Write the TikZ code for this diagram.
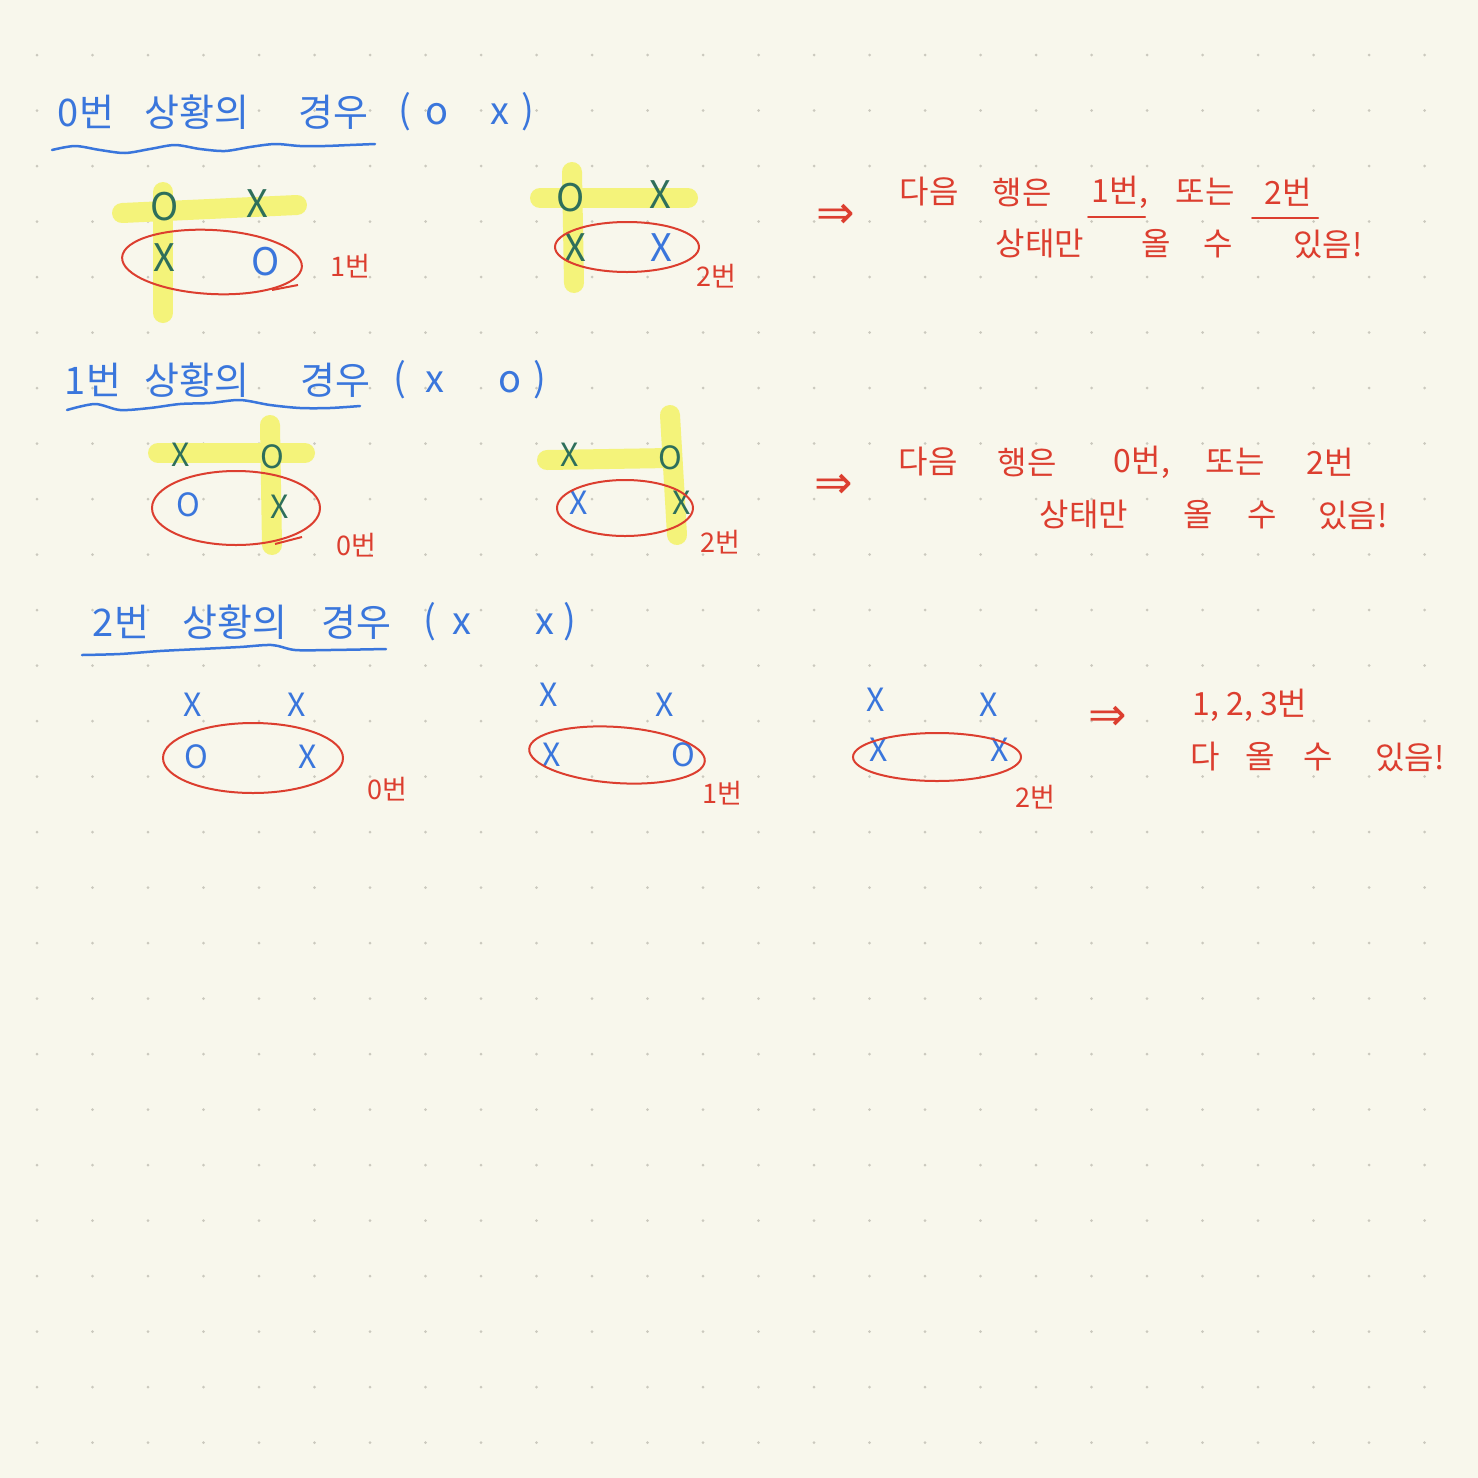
\documentclass[tikz,border=0pt]{standalone}
\usepackage{fontspec}
\setmainfont{Noto Sans CJK KR}
\newfontfamily\symf{DejaVu Sans}
\definecolor{bg}{HTML}{F8F7EC}
\definecolor{pblue}{HTML}{3A76DC}
\definecolor{pred}{HTML}{DC3E2F}
\definecolor{pgreen}{HTML}{2E6F5B}
\definecolor{hyl}{HTML}{F4F37A}
\definecolor{dotc}{HTML}{CBC9BE}
\begin{document}
\begin{tikzpicture}[x=1pt,y=-1pt,
  bt/.style={text=pblue,font=\fontsize{38}{38}\selectfont,inner sep=0pt},
  rt/.style={text=pred,font=\fontsize{32}{32}\selectfont,inner sep=0pt},
  lab/.style={text=pred,font=\fontsize{27}{27}\selectfont,inner sep=0pt},
  arr/.style={text=pred,font=\symf\fontsize{46}{46}\selectfont,inner sep=0pt},
  gmb/.style={text=pblue,font=\fontsize{38}{38}\selectfont,inner sep=0pt},
  gmg/.style={text=pgreen,font=\fontsize{38}{38}\selectfont,inner sep=0pt},
  smb/.style={text=pblue,font=\fontsize{32}{32}\selectfont,inner sep=0pt},
  smg/.style={text=pgreen,font=\fontsize{32}{32}\selectfont,inner sep=0pt},
  hl/.style={draw=hyl,line width=20pt,line cap=round},
  ring/.style={draw=pred,line width=2pt},
  wave/.style={draw=pblue,line width=2.5pt,line cap=round},
  uline/.style={draw=pred,line width=2pt,line cap=round}]
\fill[bg] (0,0) rectangle (1478,1478);
\useasboundingbox (0,0) rectangle (1478,1478);
\foreach \i in {0,...,25}{\foreach \j in {0,...,25}{
  \fill[dotc] ({37+55.5*\i},{55+55.5*\j}) circle (1.5pt);}}

% ---------- Row 1 ----------
\node[bt] (t1a) at (86,112) {0번};
\node[bt] (t1b) at (197,112) {상황의};
\node[bt] (t1c) at (333,112) {경우};
\node[bt] (t1d) at (405,112) {(};
\node[bt] (t1e) at (437,114) {o};
\node[bt] (t1f) at (500,114) {x};
\node[bt] (t1g) at (528,112) {)};
\draw[wave] plot[smooth] coordinates {(52,150)(75,146)(100,150)(125,153)(150,149)(175,145)(200,149)(225,151)(250,147)(275,144)(300,146)(325,146)(350,145)(375,144)};

\draw[hl] (122,213) -- (297,205);
\draw[hl] (163,192) -- (163,313);
\node[gmg] (a1) at (165,207) {O};
\node[gmg] (a2) at (257,204) {X};
\node[gmg] (a3) at (164,258) {X};
\node[gmb] (a4) at (266,262) {O};
\draw[ring,rotate around={-3:(212,262)}] (212,262) ellipse [x radius=90pt,y radius=32pt];
\draw[ring] (272,290) -- (298,285);
\node[lab] (l1) at (350,266) {1번};

\draw[hl] (540,198) -- (688,198);
\draw[hl] (572,172) -- (574,283);
\node[gmg] (b1) at (571,198) {O};
\node[gmg] (b2) at (660,195) {X};
\node[gmg] (b3) at (575,248) {X};
\node[gmb] (b4) at (661,248) {X};
\draw[ring] (627,247) ellipse [x radius=72pt,y radius=25pt];
\node[lab] (l2) at (716,276) {2번};

\node[arr] (r1) at (836,216) {⇒};
\node[rt] (p1a) at (929,192) {다음};
\node[rt] (p1b) at (1022,192) {행은};
\node[rt] (p1c) at (1120,192) {1번,};
\node[rt] (p1d) at (1205,192) {또는};
\node[rt] (p1e) at (1288,192) {2번};
\draw[uline] (1088,217) -- (1145,217);
\draw[uline] (1252,218) -- (1318,218);
\node[rt] (p2a) at (1040,244) {상태만};
\node[rt] (p2b) at (1156,244) {올};
\node[rt] (p2c) at (1218,244) {수};
\node[rt] (p2d) at (1328,244) {있음!};

% ---------- Row 2 ----------
\node[bt] (t2a) at (93,380) {1번};
\node[bt] (t2b) at (197,380) {상황의};
\node[bt] (t2c) at (335,380) {경우};
\node[bt] (t2d) at (400,380) {(};
\node[bt] (t2e) at (435,382) {x};
\node[bt] (t2f) at (510,382) {o};
\node[bt] (t2g) at (540,380) {)};
\draw[wave] plot[smooth] coordinates {(67,410)(95,404)(120,410)(150,408)(180,404)(210,403)(240,400)(270,405)(300,408)(330,408)(360,406)};

\draw[hl] (158,453) -- (305,453);
\draw[hl] (270,425) -- (272,545);
\node[smg] (c1) at (181,455) {X};
\node[smg] (c2) at (272,457) {O};
\node[smb] (c3) at (188,505) {O};
\node[smg] (c4) at (280,507) {X};
\draw[ring] (236,508) ellipse [x radius=84pt,y radius=37pt];
\draw[ring] (275,544) -- (302,537);
\node[lab] (l3) at (356,545) {0번};

\draw[hl] (547,460) -- (670,458);
\draw[hl] (670,415) -- (677,535);
\node[smg] (d1) at (570,455) {X};
\node[smg] (d2) at (670,458) {O};
\node[smb] (d3) at (579,503) {X};
\node[smg] (d4) at (682,503) {X};
\draw[ring] (625,508) ellipse [x radius=68pt,y radius=28pt];
\node[lab] (l4) at (720,542) {2번};

\node[arr] (r2) at (834,486) {⇒};
\node[rt] (q1a) at (928,462) {다음};
\node[rt] (q1b) at (1027,462) {행은};
\node[rt] (q1c) at (1142,462) {0번,};
\node[rt] (q1d) at (1235,462) {또는};
\node[rt] (q1e) at (1330,462) {2번};
\node[rt] (q2a) at (1084,515) {상태만};
\node[rt] (q2b) at (1198,515) {올};
\node[rt] (q2c) at (1262,515) {수};
\node[rt] (q2d) at (1353,515) {있음!};

% ---------- Row 3 ----------
\node[bt] (t3a) at (121,622) {2번};
\node[bt] (t3b) at (235,622) {상황의};
\node[bt] (t3c) at (356,622) {경우};
\node[bt] (t3d) at (430,622) {(};
\node[bt] (t3e) at (462,624) {x};
\node[bt] (t3f) at (545,624) {x};
\node[bt] (t3g) at (570,622) {)};
\draw[wave] plot[smooth] coordinates {(82,655)(120,654)(160,651)(200,649)(240,647)(272,645)(295,650)(330,650)(386,649)};

\node[smb] (e1) at (193,705) {X};
\node[smb] (e2) at (297,705) {X};
\node[smb] (e3) at (196,757) {O};
\node[smb] (e4) at (308,757) {X};
\draw[ring] (253,758) ellipse [x radius=90pt,y radius=35pt];
\node[lab] (l5) at (387,789) {0번};

\node[smb] (f1) at (549,695) {X};
\node[smb] (f2) at (665,705) {X};
\node[smb] (f3) at (552,755) {X};
\node[smb] (f4) at (683,755) {O};
\draw[ring,rotate around={-4:(617,755)}] (617,755) ellipse [x radius=88pt,y radius=28pt];
\node[lab] (l6) at (722,793) {1번};

\node[smb] (g1) at (876,700) {X};
\node[smb] (g2) at (989,705) {X};
\node[smb] (g3) at (879,750) {X};
\node[smb] (g4) at (1000,750) {X};
\draw[ring] (937,757) ellipse [x radius=84pt,y radius=24pt];
\node[lab] (l7) at (1035,797) {2번};

\node[arr] (r3) at (1108,718) {⇒};
\node[rt] (s1) at (1250,705) {1, 2, 3번};
\node[rt] (s2a) at (1205,757) {다};
\node[rt] (s2b) at (1260,757) {올};
\node[rt] (s2c) at (1318,757) {수};
\node[rt] (s2d) at (1410,757) {있음!};
\end{tikzpicture}
\end{document}
